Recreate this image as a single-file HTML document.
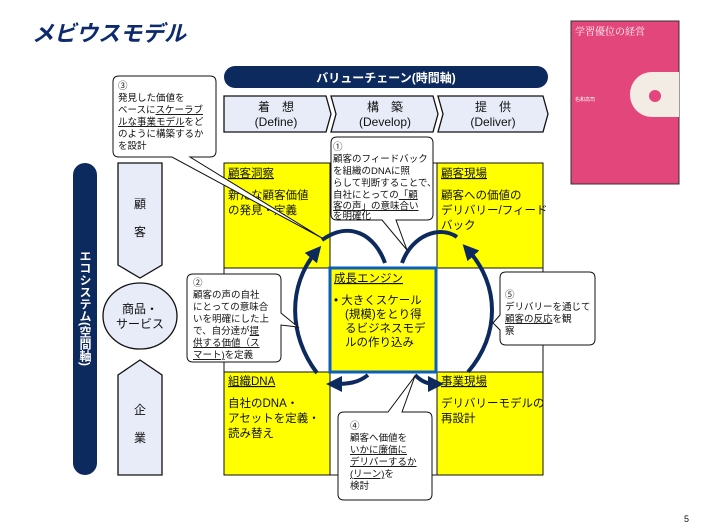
<!DOCTYPE html>
<html><head><meta charset="utf-8"><style>
body{margin:0;background:#fff;}
svg{display:block;font-family:"Liberation Sans","Noto Sans CJK JP",sans-serif;}
</style></head><body>
<svg width="706" height="529" viewBox="0 0 706 529" xmlns="http://www.w3.org/2000/svg">
<defs>
<marker id="ah" markerWidth="4" markerHeight="4" refX="2" refY="2" orient="auto" markerUnits="strokeWidth"><path d="M0,0 L4,2 L0,4 Z" fill="#0d2a5e"/></marker>
<clipPath id="bk"><rect x="571" y="21" width="108" height="163"/></clipPath>
</defs>
<text x="32" y="41" font-size="22" font-weight="bold" font-style="italic" fill="#0d2a6e">メビウスモデル</text>
<rect x="571" y="21" width="108" height="163" fill="#e2467a" stroke="#333" stroke-width="1"/>
<g clip-path="url(#bk)">
<rect x="630" y="72" width="80" height="45" rx="22" fill="#f3ece4"/>
<circle cx="655" cy="96" r="6" fill="#e2467a"/>
</g>
<text x="575" y="35" font-size="10" fill="#fff" font-family="Noto Serif CJK SC,serif">学習優位の経営</text>
<text x="575" y="101" font-size="5" fill="#fff">名和高司</text>
<rect x="224" y="66" width="324" height="22" rx="11" fill="#0d2a5e"/>
<text x="386" y="82" font-size="12" font-weight="bold" fill="#fff" text-anchor="middle">バリューチェーン(時間軸)</text>
<path d="M224,96 L326,96 L331,114 L326,132 L224,132 Z" fill="#e7ecf8" stroke="#111" stroke-width="1.3"/>
<path d="M331,96 L433,96 L438,114 L433,132 L331,132 L336,114 Z" fill="#e7ecf8" stroke="#111" stroke-width="1.3"/>
<path d="M438,96 L543,96 L548,114 L543,132 L438,132 L443,114 Z" fill="#e7ecf8" stroke="#111" stroke-width="1.3"/>
<g font-size="12" text-anchor="middle" fill="#111">
<text x="276" y="111">着　想</text><text x="276" y="126">(Define)</text>
<text x="385" y="111">構　築</text><text x="385" y="126">(Develop)</text>
<text x="493" y="111">提　供</text><text x="493" y="126">(Deliver)</text>
</g>
<rect x="73" y="163" width="24" height="312" rx="12" fill="#0d2a5e"/>
<text font-size="12" font-weight="bold" fill="#fff" x="85" y="250" style="writing-mode:vertical-rl">エコシステム(空間軸)</text>
<path d="M118,163 L162,163 L162,265 L140,278 L118,265 Z" fill="#e7ecf8" stroke="#111" stroke-width="1.3"/>
<ellipse cx="140" cy="316" rx="37" ry="33" fill="#e7ecf8" stroke="#111" stroke-width="1.3"/>
<path d="M118,375 L140,360 L162,375 L162,475 L118,475 Z" fill="#e7ecf8" stroke="#111" stroke-width="1.3"/>
<g font-size="12" fill="#111" text-anchor="middle">
<text x="140" y="208">顧</text><text x="140" y="236">客</text>
<text x="140" y="313">商品・</text><text x="140" y="328">サービス</text>
<text x="140" y="414">企</text><text x="140" y="442">業</text>
</g>
<rect x="224" y="163" width="319" height="312" fill="#fff" stroke="#111" stroke-width="1"/>
<rect x="224" y="163" width="106" height="105" fill="#ffff00" stroke="#111" stroke-width="1"/>
<rect x="437" y="163" width="106" height="105" fill="#ffff00" stroke="#111" stroke-width="1"/>
<rect x="224" y="372" width="106" height="103" fill="#ffff00" stroke="#111" stroke-width="1"/>
<rect x="437" y="372" width="106" height="103" fill="#ffff00" stroke="#111" stroke-width="1"/>
<line x1="330" y1="163" x2="330" y2="475" stroke="#111"/>
<line x1="437" y1="163" x2="437" y2="475" stroke="#111"/>
<line x1="224" y1="268" x2="543" y2="268" stroke="#111"/>
<rect x="330" y="268" width="106" height="104" fill="#ffff00" stroke="#0a5ec0" stroke-width="3"/>
<g font-size="11.5" fill="#111">
<text x="228" y="177" text-decoration="underline">顧客洞察</text>
<text x="228" y="199">新たな顧客価値</text><text x="228" y="214">の発見・定義</text>
<text x="441" y="177" text-decoration="underline">顧客現場</text>
<text x="441" y="199">顧客への価値の</text><text x="441" y="214">デリバリー/フィード</text><text x="441" y="229">バック</text>
<text x="228" y="385" text-decoration="underline">組織DNA</text>
<text x="228" y="407">自社のDNA・</text><text x="228" y="422">アセットを定義・</text><text x="228" y="437">読み替え</text>
<text x="441" y="385" text-decoration="underline">事業現場</text>
<text x="441" y="407">デリバリーモデルの</text><text x="441" y="422">再設計</text>
<text x="334" y="282" text-decoration="underline">成長エンジン</text>
<text x="334" y="304">•  大きくスケール</text><text x="345" y="318">(規模)をとり得</text><text x="345" y="332">るビジネスモデ</text><text x="345" y="346">ルの作り込み</text>
</g>
<g fill="none" stroke="#0d2a5e" stroke-width="4">
<path d="M317,373 C288,335 288,285 316,252" marker-end="url(#ah)"/>
<path d="M322,240 C350,220 375,235 385,263"/>
<path d="M402,263 C412,235 440,225 457,237"/>
<path d="M468,372 C500,335 500,285 468,250" marker-end="url(#ah)"/>
<path d="M368,375 C358,383 348,384 334,384" marker-end="url(#ah)"/>
<path d="M415,375 C422,382 428,384 436,384" marker-end="url(#ah)"/>
</g>
<g fill="#fff" stroke="#111" stroke-width="1">
<path d="M119,76 L210,76 Q216,76 216,82 L216,151 Q216,157 210,157 L190,157 L322,238 L172,157 L119,157 Q113,157 113,151 L113,82 Q113,76 119,76 Z"/>
<path d="M337,137 L427,137 Q433,137 433,143 L433,214 Q433,220 427,220 L396,220 L407,250 L382,220 L337,220 Q331,220 331,214 L331,143 Q331,137 337,137 Z"/>
<path d="M193,274 L275,274 Q281,274 281,280 L281,313 L298,327 L281,325 L281,356 Q281,362 275,362 L193,362 Q187,362 187,356 L187,280 Q187,274 193,274 Z"/>
<path d="M506,272 L589,272 Q595,272 595,278 L595,339 Q595,345 589,345 L506,345 Q500,345 500,339 L500,330 L493,323 L500,315 L500,278 Q500,272 506,272 Z"/>
<path d="M344,412 L388,412 L415,376 L402,412 L426,412 Q432,412 432,418 L432,494 Q432,500 426,500 L344,500 Q338,500 338,494 L338,418 Q338,412 344,412 Z"/>
</g>
<g font-size="9.5" fill="#111">
<text x="118" y="89">③</text><text x="118" y="101">発見した価値を</text><text x="118" y="113">ベースに<tspan text-decoration="underline">スケーラブ</tspan></text><text x="118" y="125"><tspan text-decoration="underline">ルな事業モデル</tspan>をど</text><text x="118" y="137">のように構築するか</text><text x="118" y="149">を設計</text>
<text x="333" y="150">①</text><text x="333" y="162">顧客のフィードバック</text><text x="333" y="174">を組織のDNAに照</text><text x="333" y="186">らして判断することで、</text><text x="333" y="198">自社にとっての<tspan text-decoration="underline">「顧</tspan></text><text x="333" y="209"><tspan text-decoration="underline">客の声」の意味合い</tspan></text><text x="333" y="219">を明確化</text>
<text x="193" y="286">②</text><text x="193" y="298">顧客の声の自社</text><text x="193" y="310">にとっての意味合</text><text x="193" y="322">いを明確にした上</text><text x="193" y="334">で、自分達が<tspan text-decoration="underline">提</tspan></text><text x="193" y="346" text-decoration="underline">供する価値（ス</text><text x="193" y="358"><tspan text-decoration="underline">マート)</tspan>を定義</text>
<text x="505" y="298">⑤</text><text x="505" y="310">デリバリーを通じて</text><text x="505" y="322"><tspan text-decoration="underline">顧客の反応</tspan>を観</text><text x="505" y="334">察</text>
<text x="350" y="429">④</text><text x="350" y="441">顧客へ価値を</text><text x="350" y="453" text-decoration="underline">いかに廉価に</text><text x="350" y="465" text-decoration="underline">デリバーするか</text><text x="350" y="477"><tspan text-decoration="underline">(リーン)</tspan>を</text><text x="350" y="489">検討</text>
</g>
<text x="684" y="522" font-size="9" fill="#111">5</text>
</svg>
</body></html>
